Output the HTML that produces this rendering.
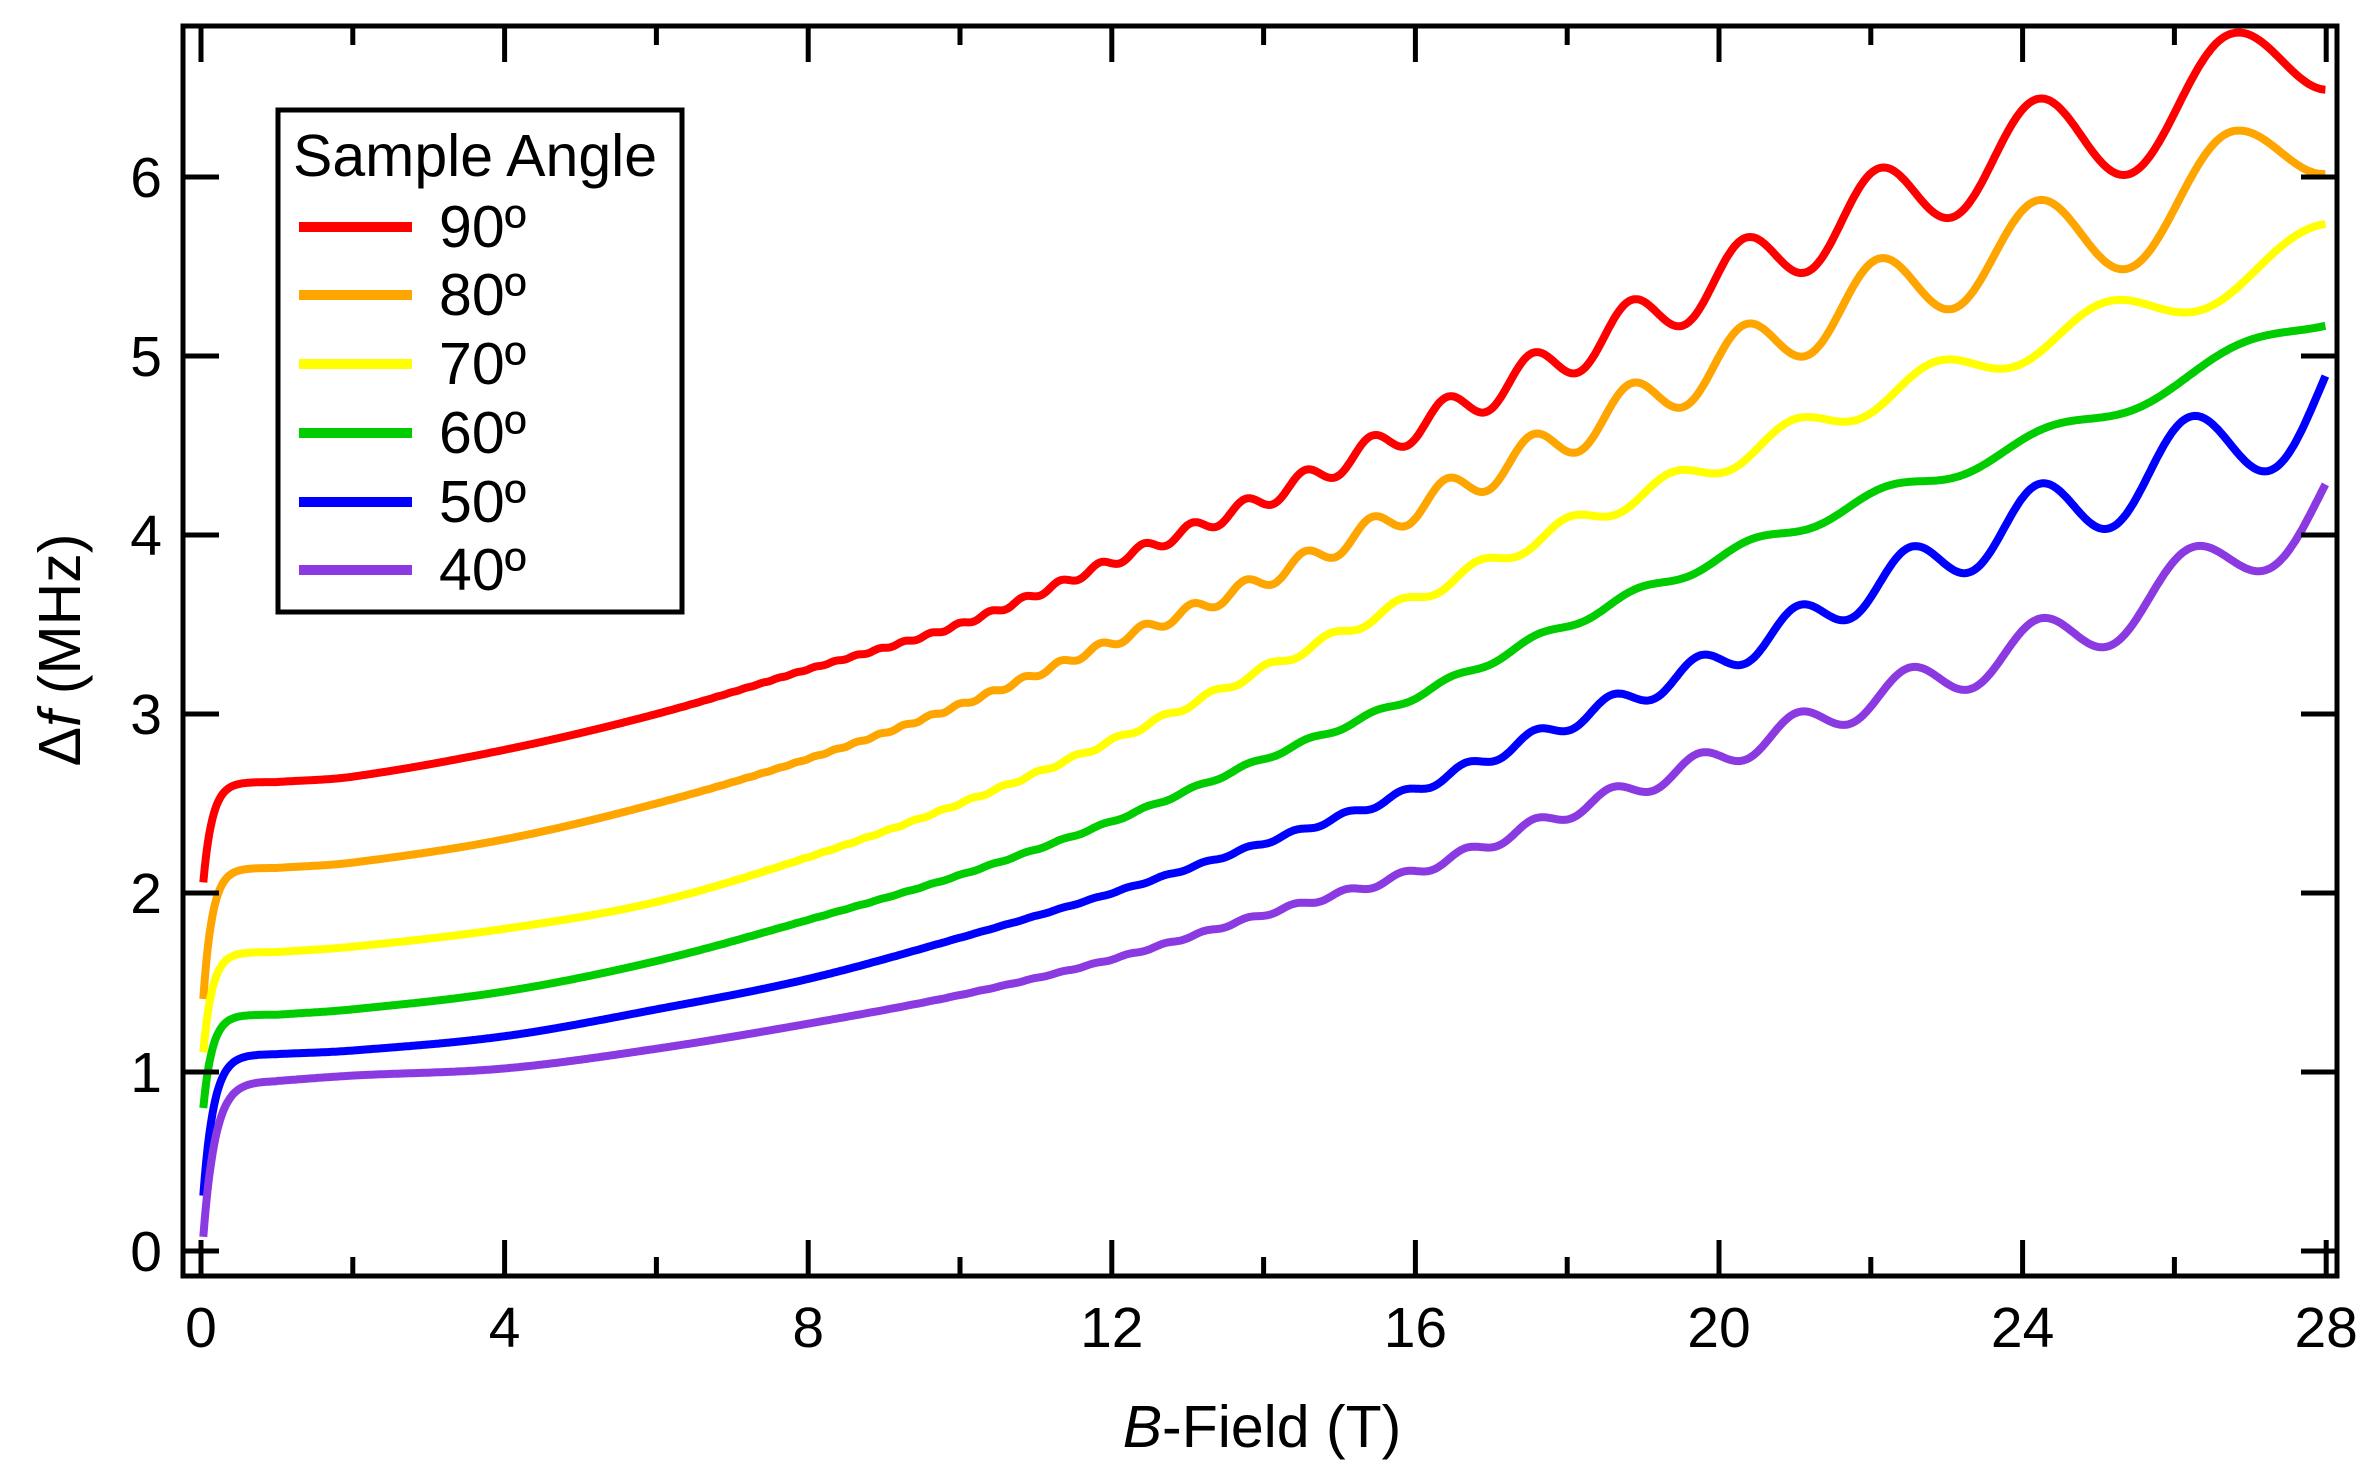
<!DOCTYPE html>
<html><head><meta charset="utf-8"><style>
html,body{margin:0;padding:0;background:#fff;}
svg{display:block;font-family:"Liberation Sans",Arial,sans-serif;}
</style></head><body>
<svg id="s" width="2376" height="1482" viewBox="0 0 2376 1482" xmlns="http://www.w3.org/2000/svg">
<rect width="2376" height="1482" fill="#fff"/>
<g id="curves" fill="none" stroke-width="8" stroke-linejoin="round" stroke-linecap="butt"></g>
<g id="ticks" stroke="#000" stroke-width="5"></g>
<rect x="183" y="26" width="2154" height="1250" fill="none" stroke="#000" stroke-width="5"/>
<g font-size="57" fill="#000" text-anchor="middle" id="xl"></g>
<g font-size="57" fill="#000" text-anchor="end" id="yl"></g>
<text x="1262" y="1447" font-size="59" text-anchor="middle"><tspan font-style="italic">B</tspan>-Field (T)</text>
<text transform="translate(80,650) rotate(-90)" font-size="59" text-anchor="middle">Δ<tspan font-style="italic">f</tspan> (MHz)</text>
<rect x="278" y="110" width="404" height="502" fill="#fff" stroke="#000" stroke-width="5"/>
<text x="293" y="176" font-size="59">Sample Angle</text>
<g stroke-width="10">
<line x1="299" x2="412" y1="227" y2="227" stroke="#ff0000"/>
<line x1="299" x2="412" y1="295" y2="295" stroke="#ffa500"/>
<line x1="299" x2="412" y1="364" y2="364" stroke="#ffff00"/>
<line x1="299" x2="412" y1="433" y2="433" stroke="#00cc00"/>
<line x1="299" x2="412" y1="502" y2="502" stroke="#0000ff"/>
<line x1="299" x2="412" y1="570" y2="570" stroke="#8a3ae0"/>
</g>
<g font-size="59">
<text x="439" y="247">90º</text>
<text x="439" y="315">80º</text>
<text x="439" y="384">70º</text>
<text x="439" y="453">60º</text>
<text x="439" y="522">50º</text>
<text x="439" y="590">40º</text>
</g>
</svg>
<script>
var NS="http://www.w3.org/2000/svg";
function X(b){return 201+b*75.9;}
function Y(v){return 1251-v*179;}
function el(p,tag,a){var e=document.createElementNS(NS,tag);for(var k in a)e.setAttribute(k,a[k]);p.appendChild(e);return e;}
var T=document.getElementById('ticks');
for(var b=0;b<=28;b+=2){var maj=b%4==0;var L=maj?36:19;
 el(T,'line',{x1:X(b),x2:X(b),y1:1276,y2:1276-L});
 el(T,'line',{x1:X(b),x2:X(b),y1:26,y2:26+L});
 if(maj){var t=el(document.getElementById('xl'),'text',{x:X(b),y:1347});t.textContent=b;}}
for(var v=0;v<=6;v++){el(T,'line',{x1:183,x2:219,y1:Y(v),y2:Y(v)});el(T,'line',{x1:2337,x2:2301,y1:Y(v),y2:Y(v)});
 var t=el(document.getElementById('yl'),'text',{x:162,y:Y(v)+20});t.textContent=v;}
function cr(knots,b){
 var n=knots.length;var i=0;while(i<n-2&&knots[i+1][0]<b)i++;
 var p0=knots[Math.max(i-1,0)],p1=knots[i],p2=knots[i+1],p3=knots[Math.min(i+2,n-1)];
 var t=(b-p1[0])/(p2[0]-p1[0]);
 var m1=(p2[1]-p0[1])/(p2[0]-p0[0])*(p2[0]-p1[0]);
 var m2=(p3[1]-p1[1])/(p3[0]-p1[0])*(p2[0]-p1[0]);
 var t2=t*t,t3=t2*t;
 return (2*t3-3*t2+1)*p1[1]+(t3-2*t2+t)*m1+(-2*t3+3*t2)*p2[1]+(t3-t2)*m2;}
var S=[
 {c:'#ff0000',s:1.9,k:[[1,2.62],[2,2.65],[4,2.8],[6,3.0],[8,3.25],[10,3.5],[12,3.85],[14,4.2],[16,4.6],[18,5.0],[20,5.42],[22,5.82],[24,6.15],[26.7,6.47],[28,6.82]],A:0.33,F:255,ph:0.55,tau:0.12,dc:55},
 {c:'#ffa500',s:1.2,k:[[1,2.14],[2,2.17],[4,2.3],[6,2.5],[8,2.75],[10,3.05],[12,3.4],[14,3.75],[16,4.15],[18,4.55],[20,4.95],[22,5.33],[24,5.6],[26.8,5.96],[28,6.33]],A:0.31,F:255,ph:0.55,tau:0.12,dc:55},
 {c:'#ffff00',s:0.95,k:[[1,1.67],[2,1.7],[4,1.8],[6,1.95],[8,2.2],[10,2.5],[12,2.85],[14,3.25],[16,3.65],[18,4.05],[20,4.4],[22,4.75],[24,5.05],[26,5.32],[28,5.62]],A:0.12,F:255,ph:0.17,tau:0.12,dc:50},
 {c:'#00cc00',s:0.65,k:[[1,1.32],[2,1.35],[4,1.45],[6,1.62],[8,1.85],[10,2.1],[12,2.4],[14,2.75],[16,3.1],[18,3.5],[20,3.87],[22,4.2],[24,4.5],[26,4.85],[28,5.22]],A:0.06,F:255,ph:0.5,tau:0.12,dc:50},
 {c:'#0000ff',s:0.12,k:[[1,1.1],[2,1.12],[4,1.2],[6,1.35],[8,1.52],[10,1.75],[12,2.0],[14,2.28],[16,2.58],[18,2.95],[20,3.3],[22,3.7],[24,4.07],[26.1,4.4],[28,4.8]],A:0.27,F:320,ph:0.23,tau:0.14,dc:95},
 {c:'#8a3ae0',s:-0.1,k:[[1,0.95],[2,0.98],[4,1.02],[6,1.13],[8,1.27],[10,1.43],[12,1.63],[14,1.88],[16,2.12],[18,2.45],[20,2.76],[22,3.08],[24,3.36],[26,3.7],[28,4.22]],A:0.2,F:320,ph:0.23,tau:0.16,dc:85}
];
var G=document.getElementById('curves');
S.forEach(function(s){var d='';
 for(var b=0.03;b<=28.001;b+=0.02){var v;
  if(b<1){var p1=cr(s.k,1);v=s.s+(p1-s.s)*(1-Math.exp(-b/s.tau));}
  else v=cr(s.k,b);
  if(b>4){var A=s.A*Math.exp(-s.dc*(1/b-1/27));v+=A*Math.cos(2*Math.PI*(s.F/b-s.ph));}
  d+=(d?'L':'M')+X(b).toFixed(1)+' '+Y(v).toFixed(1);}
 el(G,'path',{d:d,stroke:s.c});});
</script>
</body></html>
